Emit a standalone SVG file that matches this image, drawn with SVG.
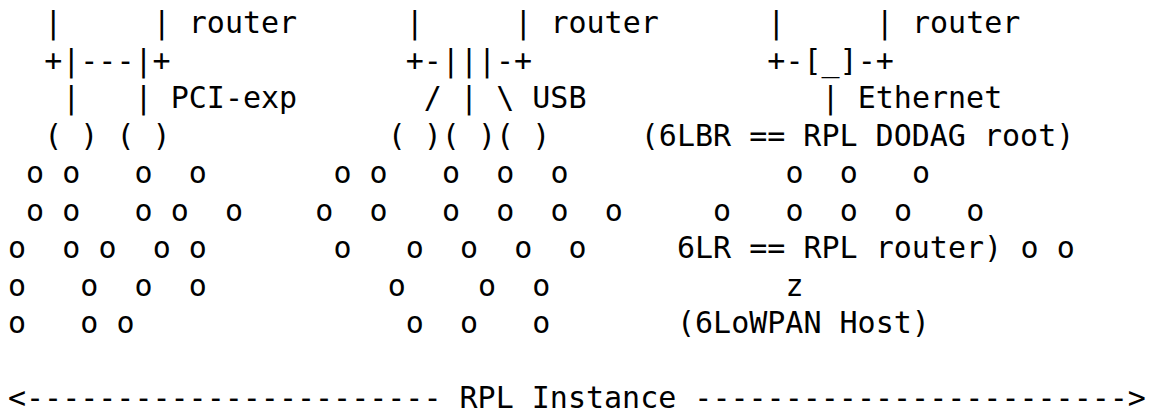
<svg xmlns="http://www.w3.org/2000/svg" width="1154" height="416" viewBox="0 0 1154 416">
<style>
text { font-family: "DejaVu Sans Mono", "Liberation Mono", monospace; font-size: 30px; fill: #000; white-space: pre; }
</style>
<rect x="0" y="0" width="1154" height="416" fill="#fff"/>
<g id="router-pci">
<text y="33.3"><tspan x="44.16">|</tspan><tspan x="152.64">|</tspan><tspan x="188.8">router</tspan></text>
<text y="70.8"><tspan x="44.16">+|---|+</tspan></text>
<text y="108.3"><tspan x="62.24">|</tspan><tspan x="134.56">|</tspan><tspan x="170.72">PCI-exp</tspan></text>
<text y="145.8"><tspan x="44.16">( ) ( )</tspan></text>
</g>
<g id="router-usb">
<text y="33.3"><tspan x="405.76">|</tspan><tspan x="514.24">|</tspan><tspan x="550.4">router</tspan></text>
<text y="70.8"><tspan x="405.76">+-|||-+</tspan></text>
<text y="108.3"><tspan x="423.84">/</tspan><tspan x="460">|</tspan><tspan x="496.16">\</tspan><tspan x="532.32">USB</tspan></text>
<text y="145.8"><tspan x="387.68">( )( )( )</tspan></text>
</g>
<g id="router-eth">
<text y="33.3"><tspan x="767.36">|</tspan><tspan x="875.84">|</tspan><tspan x="912">router</tspan></text>
<text y="70.8"><tspan x="767.36">+-[_]-+</tspan></text>
<text y="108.3"><tspan x="821.6">|</tspan><tspan x="857.76">Ethernet</tspan></text>
<text y="145.8"><tspan x="640.8">(6LBR == RPL DODAG root)</tspan></text>
</g>
<g id="nodes">
<text y="183.3"><tspan x="26.08">o</tspan><tspan x="62.24">o</tspan><tspan x="134.56">o</tspan><tspan x="188.8">o</tspan><tspan x="333.44">o</tspan><tspan x="369.6">o</tspan><tspan x="441.92">o</tspan><tspan x="496.16">o</tspan><tspan x="550.4">o</tspan><tspan x="785.44">o</tspan><tspan x="839.68">o</tspan><tspan x="912">o</tspan></text>
<text y="220.8"><tspan x="26.08">o</tspan><tspan x="62.24">o</tspan><tspan x="134.56">o</tspan><tspan x="170.72">o</tspan><tspan x="224.96">o</tspan><tspan x="315.36">o</tspan><tspan x="369.6">o</tspan><tspan x="441.92">o</tspan><tspan x="496.16">o</tspan><tspan x="550.4">o</tspan><tspan x="604.64">o</tspan><tspan x="713.12">o</tspan><tspan x="785.44">o</tspan><tspan x="839.68">o</tspan><tspan x="893.92">o</tspan><tspan x="966.24">o</tspan></text>
<text y="258.3"><tspan x="8">o</tspan><tspan x="62.24">o</tspan><tspan x="98.4">o</tspan><tspan x="152.64">o</tspan><tspan x="188.8">o</tspan><tspan x="333.44">o</tspan><tspan x="405.76">o</tspan><tspan x="460">o</tspan><tspan x="514.24">o</tspan><tspan x="568.48">o</tspan><tspan x="676.96">6LR == RPL router)</tspan><tspan x="1020.48">o</tspan><tspan x="1056.64">o</tspan></text>
<text y="295.8"><tspan x="8">o</tspan><tspan x="80.32">o</tspan><tspan x="134.56">o</tspan><tspan x="188.8">o</tspan><tspan x="387.68">o</tspan><tspan x="478.08">o</tspan><tspan x="532.32">o</tspan><tspan x="785.44">z</tspan></text>
<text y="333.3"><tspan x="8">o</tspan><tspan x="80.32">o</tspan><tspan x="116.48">o</tspan><tspan x="405.76">o</tspan><tspan x="460">o</tspan><tspan x="532.32">o</tspan><tspan x="676.96">(6LoWPAN Host)</tspan></text>
</g>
<g id="instance">
<text x="8" y="408.3">&lt;----------------------- RPL Instance ------------------------&gt;</text>
</g>
</svg>
